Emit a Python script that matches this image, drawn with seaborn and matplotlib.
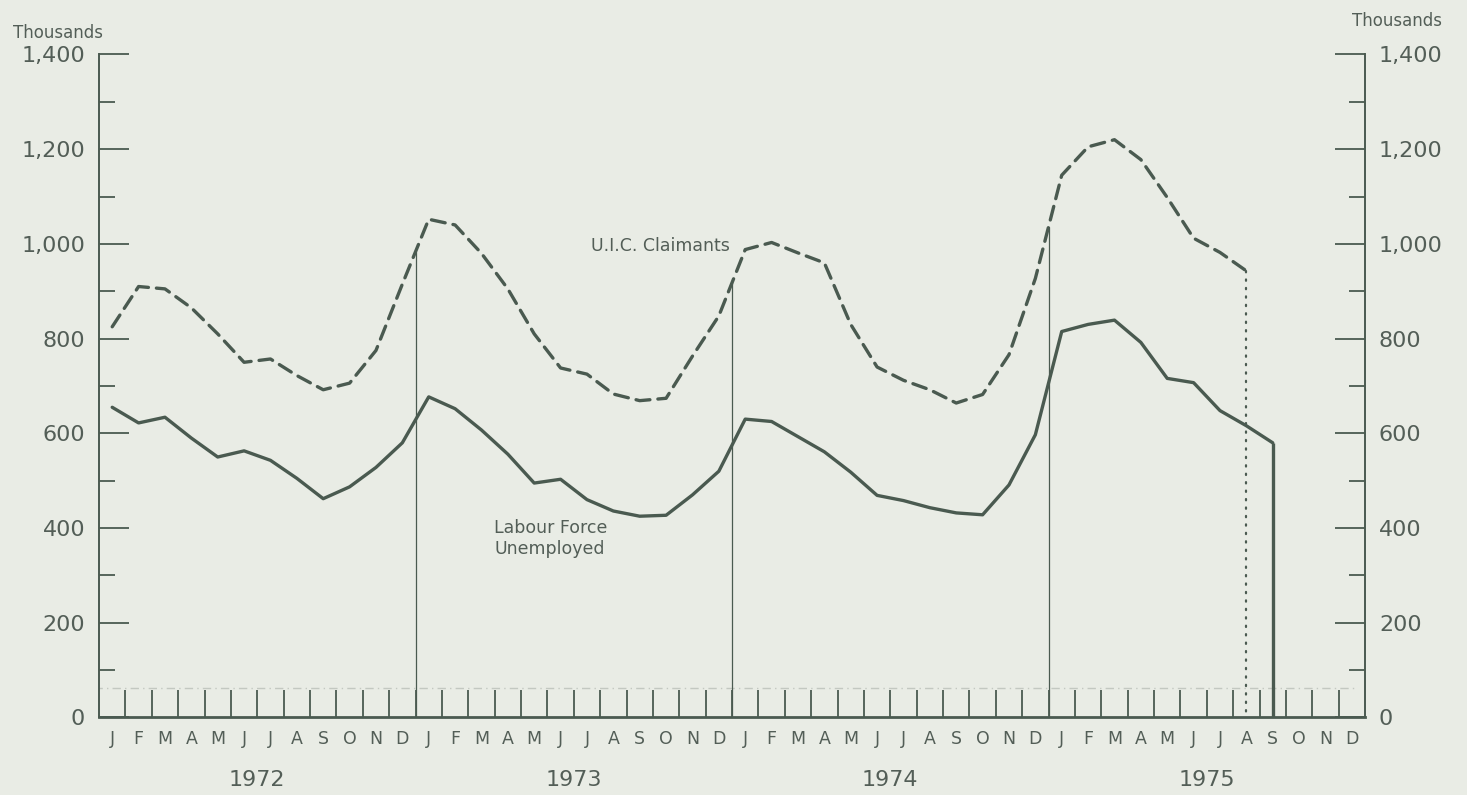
import numpy as np
import pandas as pd
import matplotlib
matplotlib.use("Agg")
import matplotlib.pyplot as plt
import matplotlib.transforms as mtransforms
from matplotlib.ticker import FixedLocator, FuncFormatter
import seaborn as sns

# ---- data (thousands of persons, monthly) ----
years = [1972, 1973, 1974, 1975]
month_letters = ["J", "F", "M", "A", "M", "J", "J", "A", "S", "O", "N", "D"]

uic_claimants = [
    825, 910, 905, 865, 810, 750, 757, 722, 692, 706, 775, 915,      # 1972
    1052, 1040, 980, 905, 810, 738, 725, 683, 669, 674, 763, 848,    # 1973
    988, 1003, 981, 960, 830, 740, 712, 692, 664, 682, 766, 927,     # 1974
    1145, 1205, 1220, 1178, 1098, 1012, 982, 943,                    # 1975 (Jan-Aug)
]
labour_force_unemployed = [
    655, 622, 634, 590, 550, 563, 543, 505, 462, 487, 528, 580,      # 1972
    677, 652, 607, 556, 495, 503, 460, 436, 425, 427, 470, 520,      # 1973
    630, 625, 593, 561, 518, 469, 458, 443, 432, 428, 491, 597,      # 1974
    815, 830, 839, 792, 716, 707, 648, 616, 580,                     # 1975 (Jan-Sep)
]
y_ticks = [0, 200, 400, 600, 800, 1000, 1200, 1400]
y_minor_ticks = [100, 300, 500, 700, 900, 1100, 1300]

# ---- styling ----
BG = "#e9ece5"
INK = "#4a5a50"
TEXT = "#535e57"
LW = 2.4

sns.set_theme(style="white")
plt.rcParams["font.family"] = ["DejaVu Sans"]

n_months = 12 * len(years)
claim_x = np.arange(len(uic_claimants)) + 0.5
labour_x = np.arange(len(labour_force_unemployed)) + 0.5

df_claim = pd.DataFrame({"month": claim_x, "value": uic_claimants})
df_labour = pd.DataFrame({"month": labour_x, "value": labour_force_unemployed})

fig = plt.figure(figsize=(14.67, 7.95), dpi=100, facecolor=BG)
ax = fig.add_axes([0.0675, 0.0975, 0.863, 0.834], facecolor=BG)

# faint rule just above the month tick marks
ax.plot([-0.2, n_months - 0.4], [62, 62], color="#c3c8c1", lw=1.0,
        ls=(0, (6, 3, 1, 3)), zorder=1)

# year separators rising from the base to the claimants curve
for b in range(12, n_months, 12):
    top = np.interp(b, claim_x, uic_claimants)
    ax.plot([b, b], [0, top], color=INK, lw=0.9, zorder=2)

sns.lineplot(data=df_claim, x="month", y="value", ax=ax, color=INK,
             lw=LW, estimator=None, legend=False, zorder=3)
ax.lines[-1].set_dashes([4.2, 2.4])
ax.lines[-1].set_dash_capstyle("round")

sns.lineplot(data=df_labour, x="month", y="value", ax=ax, color=INK,
             lw=LW, estimator=None, legend=False, zorder=3)

# series end markers: dotted drop for claimants, solid drop for labour force
ax.plot([claim_x[-1], claim_x[-1]], [uic_claimants[-1], 0], color=INK,
        lw=1.6, ls=(0, (0.6, 3.2)), dash_capstyle="round", zorder=3)
ax.plot([labour_x[-1], labour_x[-1]], [labour_force_unemployed[-1], 0],
        color=INK, lw=LW, solid_capstyle="butt", zorder=3)

ax.set_xlim(0, n_months)
ax.set_ylim(0, 1400)

# axes frame
ax.spines["top"].set_visible(False)
for side in ("left", "right"):
    ax.spines[side].set_color(INK)
    ax.spines[side].set_linewidth(1.4)
ax.spines["bottom"].set_color(INK)
ax.spines["bottom"].set_linewidth(2.0)

# y axis: both sides labelled, ticks pointing inward
ax.yaxis.set_major_locator(FixedLocator(y_ticks))
ax.yaxis.set_minor_locator(FixedLocator(y_minor_ticks))
ax.yaxis.set_major_formatter(FuncFormatter(lambda v, p: f"{int(v):,}"))
ax.tick_params(axis="y", which="major", direction="in", length=21.5, width=1.3,
               color=INK, left=True, right=True, labelleft=True, labelright=True,
               labelsize=16, labelcolor=TEXT, pad=10)
ax.tick_params(axis="y", which="minor", direction="in", length=11.5, width=1.3,
               color=INK, left=True, right=True)

# x axis: month letters centred in each month, boundary marks rising from the base
ax.xaxis.set_major_locator(FixedLocator(np.arange(n_months) + 0.5))
ax.set_xticklabels(month_letters * len(years))
ax.xaxis.set_minor_locator(FixedLocator(np.arange(1, n_months)))
ax.tick_params(axis="x", which="major", length=0, pad=9, labelsize=12.5,
               labelcolor=TEXT)
ax.tick_params(axis="x", which="minor", direction="in", length=19.5, width=1.3,
               color=INK, bottom=True, top=False)
ax.set_xlabel("")
ax.set_ylabel("")
ax.grid(False)

# year labels under each block of months
trans = mtransforms.blended_transform_factory(ax.transData, ax.transAxes)
for i, yr in enumerate(years):
    ax.text(12 * i + 6, -0.094, str(yr), transform=trans, ha="center",
            va="center", fontsize=16, color=TEXT)

# series labels
ax.text(21.3, 995, "U.I.C. Claimants", ha="center", va="center",
        fontsize=12.5, color=TEXT)
ax.text(14.98, 378, "Labour Force\nUnemployed", ha="left", va="center",
        fontsize=12.5, color=TEXT, linespacing=1.25)

# unit labels
fig.text(13 / 1467, 1 - 33 / 795, "Thousands", ha="left", va="center",
         fontsize=12, color=TEXT)
fig.text(1352 / 1467, 1 - 21 / 795, "Thousands", ha="left", va="center",
         fontsize=12, color=TEXT)

fig.savefig("out.png", dpi=100, facecolor=BG)
